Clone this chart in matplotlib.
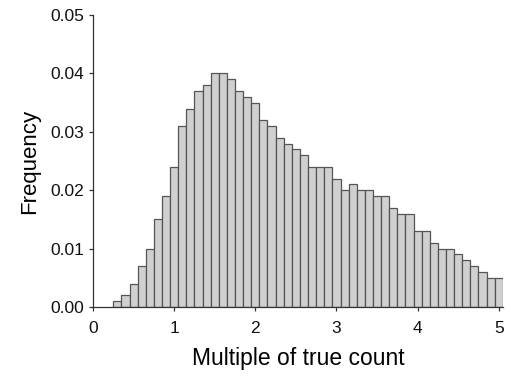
import matplotlib.pyplot as plt

plt.rcParams["font.family"] = ["Liberation Sans", "DejaVu Sans"]

# bin centres (multiple of true count), bin width 0.1
bin_centres = [
    0.3, 0.4, 0.5, 0.6, 0.7, 0.8, 0.9, 1.0, 1.1, 1.2, 1.3, 1.4,
    1.5, 1.6, 1.7, 1.8, 1.9, 2.0, 2.1, 2.2, 2.3, 2.4, 2.5, 2.6,
    2.7, 2.8, 2.9, 3.0, 3.1, 3.2, 3.3, 3.4, 3.5, 3.6, 3.7, 3.8,
    3.9, 4.0, 4.1, 4.2, 4.3, 4.4, 4.5, 4.6, 4.7, 4.8, 4.9, 5.0,
]
frequency = [
    0.001, 0.002, 0.004, 0.007, 0.010, 0.015, 0.019, 0.024, 0.031, 0.034, 0.037, 0.038,
    0.040, 0.040, 0.039, 0.037, 0.036, 0.035, 0.032, 0.031, 0.029, 0.028, 0.027, 0.026,
    0.024, 0.024, 0.024, 0.022, 0.020, 0.021, 0.020, 0.020, 0.019, 0.019, 0.017, 0.016,
    0.016, 0.013, 0.013, 0.011, 0.010, 0.010, 0.009, 0.008, 0.007, 0.006, 0.005, 0.005,
]
x_ticks = [0, 1, 2, 3, 4, 5]
y_ticks = [0.00, 0.01, 0.02, 0.03, 0.04, 0.05]

figure = plt.figure(figsize=(5.11, 3.78), dpi=100)
axis = figure.add_axes([0.182, 0.188, 0.802, 0.772])

axis.bar(
    bin_centres,
    frequency,
    width=0.1,
    color="#d0d0d0",
    edgecolor="#555555",
    linewidth=0.9,
)

axis.set_xlim(0, 5.05)
axis.set_ylim(0, 0.05)
axis.set_xticks(x_ticks)
axis.set_yticks(y_ticks)
axis.set_yticklabels([f"{value:.2f}" for value in y_ticks])

for side in ["top", "right"]:
    axis.spines[side].set_visible(False)
for side in ["left", "bottom"]:
    axis.spines[side].set_color("#333333")
    axis.spines[side].set_linewidth(0.9)

axis.tick_params(
    direction="out",
    length=3,
    width=0.9,
    color="#333333",
    labelsize=12.5,
    labelcolor="#111111",
)
axis.tick_params(axis="x", pad=7)

axis.set_xlabel("Multiple of true count", fontsize=16.5, labelpad=8)
axis.set_ylabel("Frequency", fontsize=16, labelpad=7)

figure.savefig("out.png", dpi=100)
